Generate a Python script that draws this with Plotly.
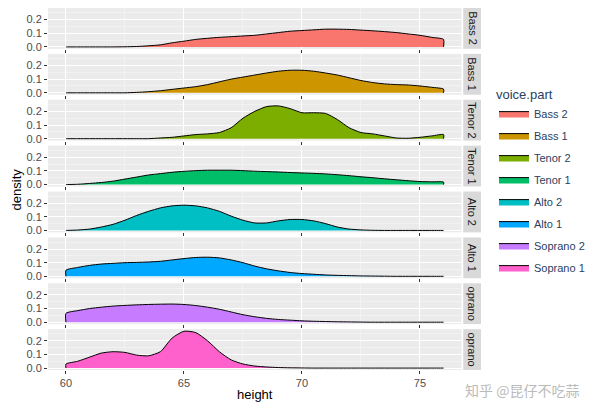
import plotly.graph_objects as go
from plotly.subplots import make_subplots

height = [60 + 0.5 * i for i in range(33)]
parts = ["Bass 2", "Bass 1", "Tenor 2", "Tenor 1", "Alto 2", "Alto 1", "Soprano 2", "Soprano 1"]
strip_labels = ["Bass 2", "Bass 1", "Tenor 2", "Tenor 1", "Alto 2", "Alto 1", "oprano", "oprano"]
colors = ["#F8766D", "#CD9600", "#7CAE00", "#00BE67", "#00BFC4", "#00A9FF", "#C77CFF", "#FF61CC"]

bass2 = [0, 0, 0, 0, 0, 0.001, 0.003, 0.008, 0.015, 0.03, 0.042, 0.055, 0.063, 0.07, 0.075, 0.08, 0.085,
         0.095, 0.105, 0.115, 0.12, 0.125, 0.13, 0.13, 0.128, 0.123, 0.118, 0.112, 0.105, 0.095, 0.085, 0.07, 0.055]
bass1 = [0, 0, 0, 0, 0, 0, 0.003, 0.008, 0.015, 0.025, 0.035, 0.045, 0.06, 0.08, 0.1, 0.115, 0.13,
         0.145, 0.158, 0.165, 0.165, 0.158, 0.145, 0.13, 0.11, 0.09, 0.075, 0.065, 0.06, 0.057, 0.05, 0.04, 0.027]
tenor2 = [0, 0, 0, 0, 0, 0, 0, 0, 0.005, 0.01, 0.02, 0.03, 0.035, 0.045, 0.08, 0.15, 0.2,
          0.235, 0.24, 0.22, 0.19, 0.19, 0.185, 0.14, 0.08, 0.045, 0.035, 0.02, 0.005, 0.003, 0.01, 0.02, 0.03]
tenor1 = [0, 0.002, 0.008, 0.015, 0.025, 0.04, 0.055, 0.07, 0.08, 0.09, 0.097, 0.102, 0.105, 0.105, 0.105, 0.102, 0.098,
          0.095, 0.092, 0.088, 0.085, 0.082, 0.078, 0.072, 0.065, 0.057, 0.05, 0.042, 0.035, 0.028, 0.022, 0.02, 0.018]
alto2 = [0, 0.003, 0.01, 0.025, 0.045, 0.075, 0.11, 0.14, 0.165, 0.18, 0.185, 0.18, 0.165, 0.14, 0.105, 0.075, 0.055,
         0.055, 0.07, 0.08, 0.08, 0.07, 0.05, 0.025, 0.01, 0.004, 0.001, 0, 0, 0, 0, 0, 0]
alto1 = [0.045, 0.065, 0.08, 0.09, 0.095, 0.1, 0.102, 0.105, 0.11, 0.12, 0.13, 0.138, 0.14, 0.135, 0.12, 0.1, 0.075,
         0.055, 0.04, 0.028, 0.02, 0.015, 0.01, 0.007, 0.005, 0.003, 0.002, 0.001, 0, 0, 0, 0, 0]
soprano2 = [0.065, 0.085, 0.1, 0.11, 0.118, 0.123, 0.127, 0.13, 0.132, 0.133, 0.13, 0.122, 0.11, 0.095, 0.075, 0.055, 0.04,
            0.028, 0.02, 0.015, 0.01, 0.007, 0.005, 0.003, 0.002, 0.001, 0, 0, 0, 0, 0, 0, 0]
soprano1 = [0.03, 0.05, 0.08, 0.11, 0.12, 0.115, 0.095, 0.09, 0.12, 0.22, 0.27, 0.26, 0.2, 0.12, 0.06, 0.03, 0.015,
            0.008, 0.004, 0.002, 0.001, 0, 0, 0, 0, 0, 0, 0, 0, 0, 0, 0, 0]
series = [bass2, bass1, tenor2, tenor1, alto2, alto1, soprano2, soprano1]

n = len(parts)
gap = 0.014
fig = make_subplots(rows=n, cols=1, shared_xaxes=True, vertical_spacing=gap)
xdom = 0.955
for i, (name, vals, col) in enumerate(zip(parts, series, colors)):
    xs = [height[0]] + height + [height[-1]]
    ys = [0] + vals + [0]
    fig.add_trace(go.Scatter(x=xs, y=ys, mode="lines", fill="toself", fillcolor=col,
                             line=dict(color="black", width=1, shape="spline", smoothing=0.6),
                             name=name, legendgroup=name), row=i + 1, col=1)
    ax = "yaxis" if i == 0 else f"yaxis{i+1}"
    dom = fig.layout[ax].domain
    fig.add_shape(type="rect", xref="paper", yref="paper", x0=0.959, x1=1.0, y0=dom[0], y1=dom[1],
                  fillcolor="#D9D9D9", line_width=0, layer="below")
    fig.add_annotation(text=strip_labels[i], xref="paper", yref="paper", x=0.9795, y=(dom[0] + dom[1]) / 2,
                       xanchor="center", yanchor="middle",
                       showarrow=False, textangle=90, font=dict(size=11, color="#1A1A1A"))

fig.update_xaxes(domain=[0, xdom], range=[59.24, 76.76], tickvals=[60, 65, 70, 75],
                 showgrid=True, gridcolor="white", gridwidth=1.2, zeroline=False,
                 minor=dict(showgrid=True, gridcolor="#F2F2F2", dtick=2.5, tick0=57.5),
                 ticks="outside", ticklen=3, tickcolor="#333", tickfont=dict(size=11, color="#4D4D4D"))
fig.update_yaxes(range=[-0.014, 0.285], tickvals=[0, 0.1, 0.2], ticktext=["0.0", "0.1", "0.2"],
                 showgrid=True, gridcolor="white", gridwidth=1.2, zeroline=False,
                 minor=dict(showgrid=True, gridcolor="#F2F2F2", dtick=0.05, tick0=0.05),
                 ticks="outside", ticklen=3, tickcolor="#333", tickfont=dict(size=11, color="#4D4D4D"))
fig.update_xaxes(title_text="height", title_font=dict(size=13, color="black"), title_standoff=2, row=n, col=1)

fig.add_annotation(text="density", xref="paper", yref="paper", x=-0.073, y=0.5, textangle=-90,
                   xanchor="center", yanchor="middle",
                   showarrow=False, font=dict(size=13, color="black"))
fig.add_annotation(text="知乎 @昆仔不吃蒜", xref="paper", yref="paper", x=1.23, y=-0.055,
                   showarrow=False, xanchor="right", yanchor="middle",
                   font=dict(size=14, color="#BBBBBB", family="Noto Sans CJK SC"))

fig.update_layout(width=582, height=394, margin=dict(l=40, r=105, t=0, b=32),
                  plot_bgcolor="#EBEBEB", paper_bgcolor="white",
                  font=dict(family="Liberation Sans, Arial", size=11),
                  legend=dict(title=dict(text="voice.part", font=dict(size=13)), x=1.03, y=0.795,
                              yanchor="top", tracegroupgap=3, font=dict(size=11)),
                  showlegend=True)
fig.write_html("out.html")
